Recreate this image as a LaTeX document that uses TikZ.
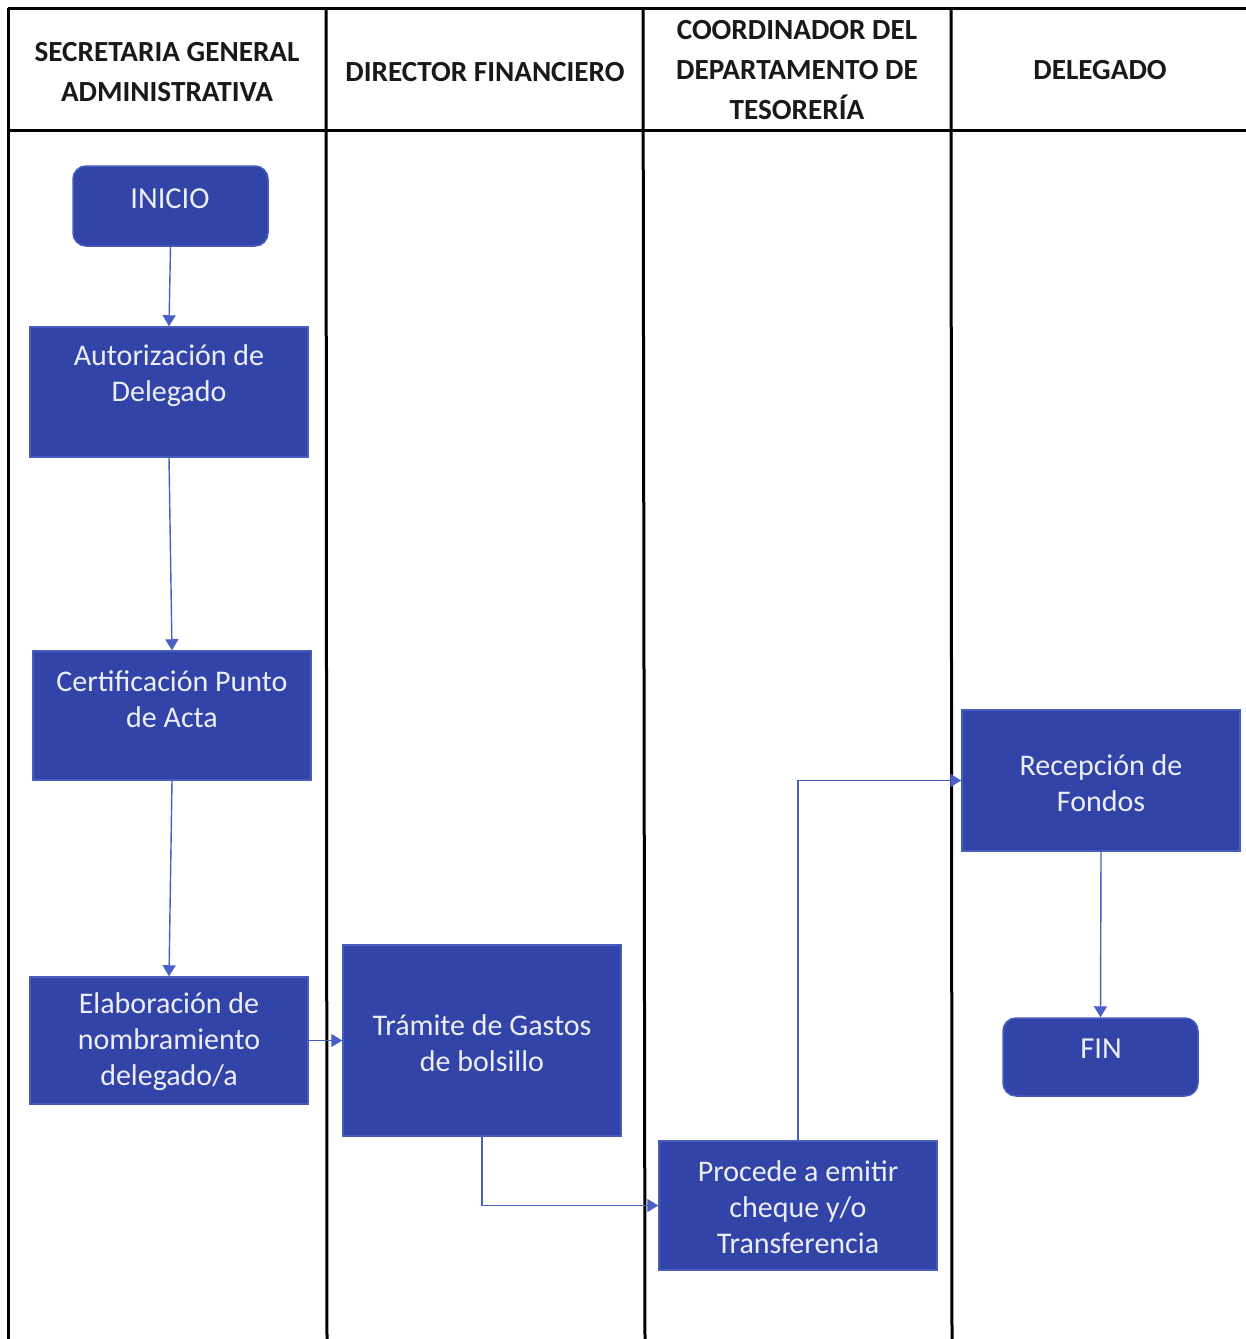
\documentclass[tikz,border=0pt]{standalone}
\usepackage{fontspec}
\setmainfont{Carlito}
\usetikzlibrary{arrows.meta}
\definecolor{boxblue}{RGB}{50,68,168}
\definecolor{boxedge}{RGB}{70,92,190}
\definecolor{linkblue}{RGB}{72,96,196}
\definecolor{txtwhite}{RGB}{236,238,246}
\tikzset{
  lane/.style={line width=3pt, draw=black},
  procbox/.style={rectangle, fill=boxblue, draw=boxedge, line width=1.5pt, inner sep=0pt},
  termbox/.style={rectangle, rounded corners=13pt, fill=boxblue, draw=boxedge, line width=1.5pt, inner sep=0pt},
  boxtext/.style={text=txtwhite, align=center, font=\fontsize{30}{36}\selectfont, inner sep=0pt},
  termtext/.style={text=txtwhite, align=center, font=\fontsize{30.5}{36}\selectfont, inner sep=0pt},
  headtext/.style={text=black!90, align=center, font=\bfseries\fontsize{29.2}{40}\selectfont, inner sep=0pt},
  link/.style={draw=linkblue, line width=1.4pt, -{Triangle[width=13pt,length=11pt]}}
}
\begin{document}
\begin{tikzpicture}[x=1pt,y=-1pt]
\useasboundingbox (0,0) rectangle (1246,1339);
\fill[white] (0,0) rectangle (1246,1339);
% lanes
\draw[lane] (8,8) -- (1246,8);
\draw[lane] (8,130) -- (1246,130);
\draw[lane] (8,8) -- (8,1339);
\draw[lane] (326,8) -- (327,1339);
\draw[lane] (643,8) -- (645,1339);
\draw[lane] (951,8) -- (952,1339);
% headers
\node[headtext] (h1) at (167,72) {SECRETARIA GENERAL\\ADMINISTRATIVA};
\node[headtext] (h2) at (485,72) {DIRECTOR FINANCIERO};
\node[headtext] (h3) at (797,70) {COORDINADOR DEL\\DEPARTAMENTO DE\\TESORERÍA};
\node[headtext] (h4) at (1100,70) {DELEGADO};
% boxes
\node[termbox, minimum width=195pt, minimum height=80pt] (ini) at (170.5,206) {};
\node[termtext] (ini-t) at (170,199) {INICIO};
\node[procbox, minimum width=278pt, minimum height=130pt] (aut) at (169,392) {};
\node[boxtext] (aut-t) at (169,376) {Autorización de\\Delegado};
\node[procbox, minimum width=278pt, minimum height=129pt] (cer) at (172,715.5) {};
\node[boxtext] (cer-t) at (172,699) {Certificación Punto\\de Acta};
\node[procbox, minimum width=278pt, minimum height=127pt] (ela) at (169,1040.5) {};
\node[boxtext] (ela-t) at (169,1042) {Elaboración de\\nombramiento\\delegado/a};
\node[procbox, minimum width=278pt, minimum height=191pt] (tra) at (482,1040.5) {};
\node[boxtext] (tra-t) at (482,1043) {Trámite de Gastos\\de bolsillo};
\node[procbox, minimum width=278pt, minimum height=129pt] (pro) at (798,1205.5) {};
\node[boxtext] (pro-t) at (798,1207) {Procede a emitir\\cheque y/o\\Transferencia};
\node[procbox, minimum width=278pt, minimum height=141pt] (rec) at (1101,780.5) {};
\node[boxtext] (rec-t) at (1101,783) {Recepción de\\Fondos};
\node[termbox, minimum width=195pt, minimum height=78pt] (fin) at (1100.5,1057) {};
\node[termtext] (fin-t) at (1101,1049) {FIN};
% connectors
\draw[link] (ini.south) -- (aut.north);
\draw[link] (aut.south) -- (cer.north);
\draw[link] (cer.south) -- (ela.north);
\draw[link] (ela.east) -- (tra.west |- ela.east);
\draw[link] (tra.south) |- (pro.west);
\draw[link] (pro.north) |- (rec.west);
\draw[link] (rec.south) -- (fin.north);
\end{tikzpicture}
\end{document}
